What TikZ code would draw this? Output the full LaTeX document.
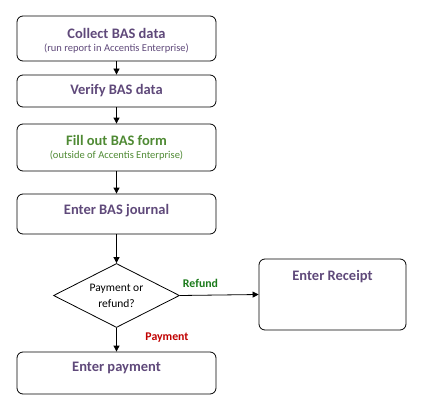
\documentclass[tikz,border=0pt]{standalone}
\usepackage{fontspec}
\setmainfont{Carlito}
\usetikzlibrary{shapes.geometric,arrows.meta}
\definecolor{purp}{HTML}{5F497A}
\definecolor{fgreen}{HTML}{4F8A34}
\definecolor{rgreen}{HTML}{1A7A1A}
\definecolor{pred}{HTML}{C00000}
\begin{document}
\begin{tikzpicture}[x=1pt,y=-1pt,
  box/.style={draw,thick,rounded corners=6pt,minimum width=199pt,inner sep=0pt},
  ttl/.style={font=\bfseries\fontsize{14.5}{16}\selectfont,text=purp},
  sub/.style={font=\fontsize{10.5}{12}\selectfont,text=purp},
  arr/.style={-{Triangle[length=6pt,width=6pt]},thick},
  lbl/.style={font=\bfseries\fontsize{11.8}{13}\selectfont}]
\useasboundingbox (0,0) rectangle (423,412);
\node[box,minimum height=45pt] (b1) at (116.5,38.5) {};
\node[ttl] (t1) at (116.5,33) {Collect BAS data};
\node[sub] (s1) at (116.5,49) {(run report in Accentis Enterprise)};
\node[box,minimum height=32pt] (b2) at (116.5,91) {};
\node[ttl] (t2) at (116.5,91) {Verify BAS data};
\node[box,minimum height=47pt] (b3) at (116.5,147.5) {};
\node[ttl,text=fgreen] (t3) at (116.5,140) {Fill out BAS form};
\node[sub,text=fgreen] (s3) at (116.5,156) {(outside of Accentis Enterprise)};
\node[box,minimum height=40pt] (b4) at (116.5,214) {};
\node[ttl] (t4) at (116.5,211) {Enter BAS journal};
\node[draw,thick,diamond,aspect=2,minimum width=126pt,minimum height=64pt,inner sep=0pt,
  align=center,font=\fontsize{11.5}{16}\selectfont] (d) at (116.5,295.5) {Payment or\\refund?};
\node[draw,thick,rounded corners=6pt,minimum width=147pt,minimum height=71pt] (r) at (332.5,294.5) {};
\node[ttl] (tr) at (332.5,277) {Enter Receipt};
\node[box,minimum height=42pt] (b5) at (116.5,373) {};
\node[ttl] (t5) at (116.5,368) {Enter payment};
\draw[arr] (b1) -- (b2);
\draw[arr] (b2) -- (b3);
\draw[arr] (b3) -- (b4);
\draw[arr] (b4) -- (d);
\draw[arr] (d.east) -- (r.west);
\draw[arr] (d.south) -- (b5);
\node[lbl,text=rgreen] (lr) at (200.5,283) {Refund};
\node[lbl,text=pred] (lp) at (167,338) {Payment};
\end{tikzpicture}
\end{document}
